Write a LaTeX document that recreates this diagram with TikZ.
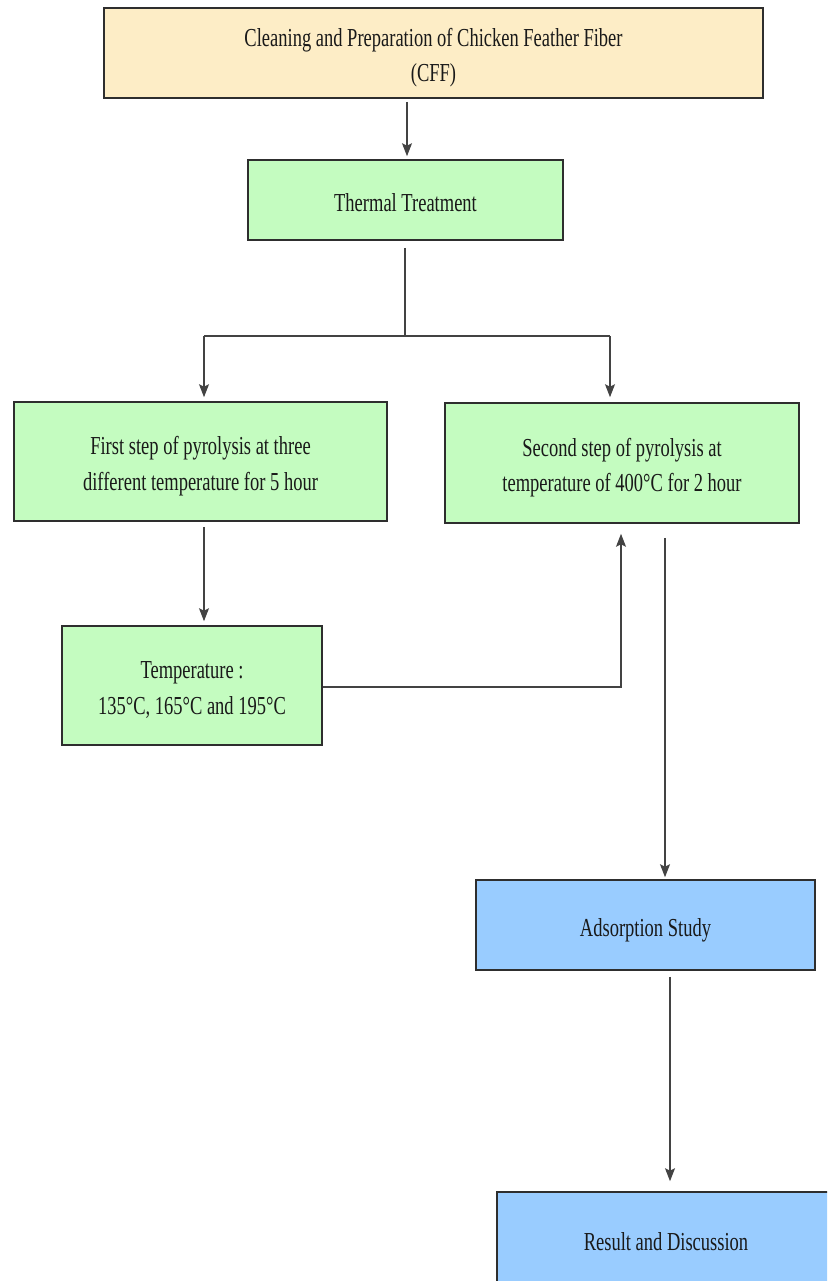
\documentclass[tikz,border=0pt]{standalone}
\usepackage{fontspec}
\usepackage{graphicx}
\setmainfont{Liberation Serif}
\usetikzlibrary{arrows.meta}
\definecolor{cream}{HTML}{FDEDC6}
\definecolor{mint}{HTML}{C4FCC0}
\definecolor{sky}{HTML}{99CCFF}
\definecolor{edge}{HTML}{2E2E2E}
\newcommand{\tx}[1]{\raisebox{-4pt}[\height][\depth]{\scalebox{1}[1.4]{\begin{tabular}{@{}c@{}}#1\end{tabular}}}}
\tikzset{
  box/.style={draw=edge, line width=1.6pt, inner sep=0pt, align=center,
    font=\fontsize{18.5}{25.5}\selectfont, text=black!90},
  conn/.style={draw=edge!90, line width=1.2pt},
  arr/.style={conn, -{Stealth[length=13pt,width=10pt,inset=2.5pt]}}
}
\begin{document}
\begin{tikzpicture}[x=1pt,y=-1pt]
\useasboundingbox (0,0) rectangle (827,1281);
\begin{scope}
\clip (0,0) rectangle (827,1281);
\node[box, fill=cream, minimum width=659pt, minimum height=90pt] (cff) at (433.5,53) {\tx{Cleaning and Preparation of Chicken Feather Fiber\\(CFF)}};
\node[box, fill=mint, minimum width=315pt, minimum height=80pt] (tt) at (405.5,200) {\tx{Thermal Treatment}};
\node[box, fill=mint, minimum width=373pt, minimum height=119pt] (p1) at (200.5,461.5) {\tx{First step of pyrolysis at three\\different temperature for 5 hour}};
\node[box, fill=mint, minimum width=354pt, minimum height=120pt] (p2) at (622,463) {\tx{Second step of pyrolysis at\\temperature of 400°C for 2 hour}};
\node[box, fill=mint, minimum width=260pt, minimum height=119pt] (temp) at (192,685.5) {\tx{Temperature :\\135°C, 165°C and 195°C}};
\node[box, fill=sky, minimum width=339pt, minimum height=90pt] (ads) at (645.5,925) {\tx{Adsorption Study}};
\node[box, fill=sky, minimum width=338pt, minimum height=94pt] (res) at (666,1239) {\tx{Result and Discussion}};
\end{scope}
\coordinate (j) at (405,336);
\coordinate (jl) at (204,336);
\coordinate (jr) at (610,336);
\coordinate (bend) at (621,687);
\draw[arr] ([yshift=-3pt]cff.south -| 407,0) -- ([yshift=3pt]tt.north -| 407,0);
\draw[conn] ([yshift=-7pt]tt.south -| j) -- (j);
\draw[conn] (jl) -- (jr);
\draw[arr] (jl) -- ([yshift=4pt]p1.north -| jl);
\draw[arr] (jr) -- ([yshift=5pt]p2.north -| jr);
\draw[arr] ([yshift=-5pt]p1.south -| jl) -- ([yshift=4pt]temp.north -| jl);
\draw[arr] (temp.east |- bend) -- (bend) -- ([yshift=-10pt]p2.south -| bend);
\draw[arr] ([yshift=-14pt]p2.south -| 665,0) -- ([yshift=2pt]ads.north -| 665,0);
\draw[arr] ([yshift=-6pt]ads.south -| 670,0) -- ([yshift=10pt]res.north -| 670,0);
\end{tikzpicture}
\end{document}
